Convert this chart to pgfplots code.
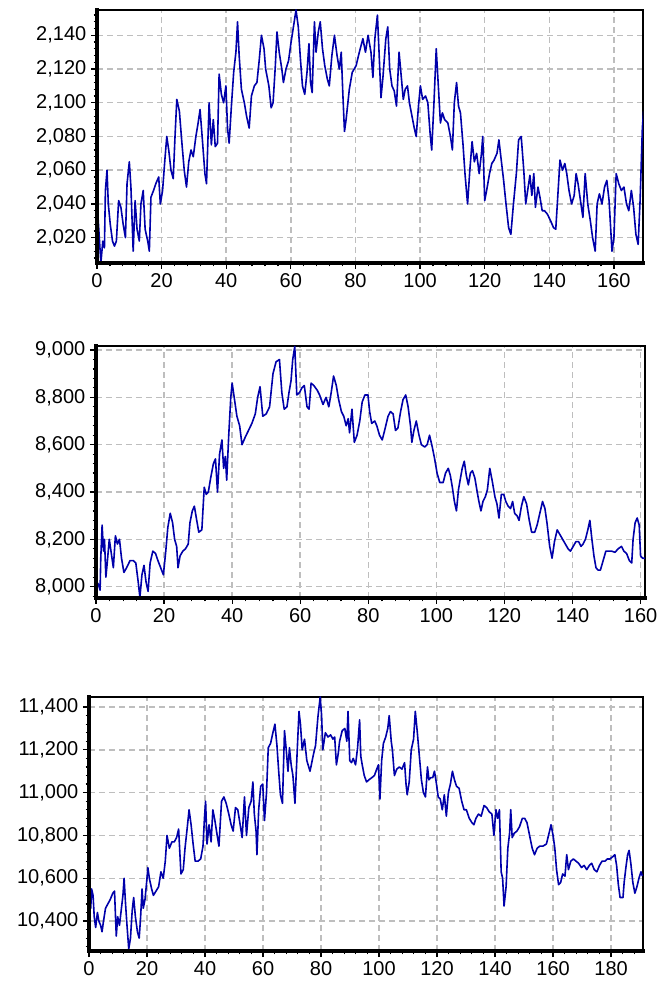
\documentclass[border=0pt]{standalone}
\usepackage{fontspec}
\setmainfont{Liberation Sans}
\usepackage{pgfplots}
\pgfplotsset{compat=1.18}

\definecolor{tracecol}{RGB}{0,0,170}
\definecolor{gridgray}{RGB}{190,190,190}

\pgfplotsset{
  panel/.style={
    scale only axis,
    anchor=south west,
    clip mode=individual,
    axis line style={black, line width=1.6pt},
    tick pos=left,
    tick align=outside,
    major tick length=4.5pt,
    minor tick length=2.5pt,
    every tick/.style={black, line width=0.9pt},
    xtick distance=20,
    minor x tick num=4,
    minor y tick num=4,
    grid=major,
    major grid style={gridgray, line width=1.1pt, dash pattern=on 4.5pt off 3pt},
    scaled y ticks=false,
    tick label style={font=\fontsize{15}{18}\selectfont},
    /pgf/number format/assume math mode=true,
    /pgf/number format/1000 sep={,},
    /pgf/number format/min exponent for 1000 sep=0,
  },
  trc/.style={tracecol, line width=1.2pt, no markers, line join=round},
}

\begin{document}
\begin{tikzpicture}
\useasboundingbox (0,0) rectangle (500.25pt,742.5pt);

% --- top panel ---
\begin{axis}[panel, at={(72.75pt,545.25pt)}, width=409.5pt, height=189.75pt,
  xmin=0, xmax=169, ymin=2005, ymax=2155, ytick distance=20]
\addplot[trc] coordinates {
(0,2042) (1.2,2005) (1.8,2018) (2.3,2014) (2.6,2048) (3.1,2060) (3.5,2040) (4.1,2028) (4.8,2018) (5.4,2015)
(6,2018) (6.7,2042) (7.4,2038) (8.1,2028) (8.8,2020) (9.3,2052) (10,2065) (10.5,2050) (11.2,2012) (11.8,2042)
(12.4,2025) (13.1,2018) (13.6,2040) (14.3,2048) (14.9,2025) (15.7,2018) (16.2,2012) (16.7,2044) (17.5,2048) (18.2,2052)
(19.1,2056) (19.6,2040) (20.3,2048) (21,2066) (21.6,2080) (22.2,2072) (22.9,2060) (23.6,2055) (24.1,2078) (24.7,2102)
(25.5,2095) (26.2,2078) (27,2060) (27.7,2050) (28.4,2065) (29.1,2072) (29.8,2068) (30.6,2080) (31.3,2088) (31.9,2096)
(32.7,2076) (33.4,2058) (33.9,2052) (34.7,2100) (35.4,2075) (36,2090) (36.6,2074) (37.3,2076) (37.8,2117) (38.5,2105)
(39.2,2100) (39.9,2110) (40.4,2085) (40.9,2076) (41.6,2098) (42.3,2118) (43,2130) (43.5,2148) (44,2128) (44.7,2108)
(45.6,2100) (46.3,2092) (47.1,2085) (47.8,2104) (48.7,2110) (49.5,2112) (50.2,2125) (50.9,2140) (51.7,2132) (52.2,2120)
(53.2,2110) (53.9,2097) (54.5,2100) (55.2,2122) (55.7,2142) (56.4,2130) (57.2,2120) (57.7,2112) (58.5,2120) (59.3,2125)
(60,2135) (60.8,2145) (61.6,2155) (62.3,2145) (63,2125) (63.6,2110) (64.3,2105) (65,2118) (65.6,2135) (66.1,2112)
(66.6,2106) (67.3,2148) (67.8,2130) (68.5,2142) (69.1,2148) (69.8,2132) (70.5,2122) (71.3,2114) (71.9,2110) (72.7,2128)
(73.5,2140) (74.3,2128) (75,2120) (75.6,2130) (76.1,2105) (76.6,2083) (77.1,2090) (78.1,2108) (79,2118) (80.2,2122)
(81.2,2130) (82.3,2138) (83.1,2130) (83.9,2140) (84.8,2130) (85.4,2115) (86,2138) (86.8,2152) (87.3,2130) (87.9,2103)
(88.5,2115) (89.4,2138) (90,2145) (90.6,2120) (91.3,2110) (92,2107) (92.7,2098) (93.5,2130) (94.2,2115) (94.8,2102)
(95.4,2108) (96.1,2110) (96.7,2100) (97.5,2092) (98.2,2085) (98.8,2080) (99.5,2098) (100.1,2110) (100.8,2102) (101.7,2104)
(102.4,2100) (103.1,2082) (103.6,2072) (104.3,2100) (105,2132) (105.5,2115) (106.3,2088) (106.9,2094) (107.6,2090) (108.6,2088)
(109.4,2080) (110,2072) (110.6,2100) (111.3,2112) (111.9,2098) (112.5,2094) (113.3,2075) (113.9,2058) (114.7,2040) (115.4,2060)
(116.1,2077) (116.8,2065) (117.5,2070) (118.3,2058) (119,2070) (119.4,2080) (120,2042) (120.6,2048) (121.5,2058) (122.2,2064)
(122.9,2066) (123.8,2070) (124.4,2078) (125,2068) (125.8,2055) (126.6,2040) (127.4,2026) (128.1,2022) (128.9,2040) (129.8,2058)
(130.5,2078) (131.3,2080) (132.1,2060) (132.7,2040) (133.3,2048) (134,2057) (134.6,2045) (135.2,2058) (135.7,2038) (136.5,2050)
(137.1,2044) (137.8,2036) (138.5,2036) (139.4,2034) (140.4,2030) (141.3,2026) (142,2025) (142.7,2047) (143.3,2066) (144.1,2060)
(144.8,2064) (145.4,2058) (146.1,2048) (146.9,2040) (147.7,2045) (148.3,2058) (148.9,2052) (149.8,2040) (150.4,2032) (151.1,2058)
(151.9,2040) (152.7,2030) (153.4,2020) (154.2,2012) (154.8,2040) (155.5,2046) (156.3,2040) (157.1,2050) (157.8,2054) (158.5,2042)
(159.4,2012) (160,2020) (160.7,2058) (161.5,2052) (162.3,2048) (163.1,2050) (163.9,2040) (164.6,2036) (165.4,2048) (166.1,2038)
(166.8,2022) (167.5,2016) (168.1,2042) (168.8,2085) (169.2,2095)
};
\draw[black, line width=2.6pt, line cap=rect] (rel axis cs:0,1) -- (rel axis cs:0,0) -- (rel axis cs:1,0);
\end{axis}

% --- middle panel ---
\begin{axis}[panel, at={(72pt,294pt)}, width=411.75pt, height=189pt,
  xmin=0, xmax=161.3, ymin=7952, ymax=9017, ytick distance=200]
\addplot[trc] coordinates {
(0.2,8020) (0.7,8010) (1.2,7985) (1.4,8120) (1.8,8260) (2.2,8150) (2.5,8200) (2.9,8040) (3.3,8100) (3.9,8200)
(4.5,8140) (5.1,8080) (5.7,8215) (6.3,8180) (6.9,8200) (7.5,8120) (8.2,8060) (9,8080) (10,8110) (11,8110)
(11.7,8100) (12.4,8020) (12.9,7955) (13.5,8050) (14.1,8090) (14.7,8020) (15.3,7980) (15.9,8100) (16.7,8150) (17.5,8140)
(18.2,8110) (19,8080) (19.8,8050) (20.5,8150) (21.1,8250) (21.8,8310) (22.5,8270) (23.1,8200) (23.7,8170) (24.1,8080)
(24.7,8130) (25.5,8150) (26.3,8160) (27.1,8180) (27.6,8270) (28.3,8320) (28.9,8340) (29.6,8280) (30.2,8230) (31.1,8240)
(31.8,8420) (32.4,8390) (33,8400) (33.7,8460) (34.5,8520) (35.1,8540) (35.7,8400) (36.3,8560) (37,8620) (37.5,8500)
(38,8550) (38.4,8450) (39,8640) (39.6,8800) (40,8860) (40.6,8800) (41.4,8720) (42.2,8680) (42.9,8600) (43.8,8630)
(44.8,8660) (45.8,8690) (46.8,8730) (47.5,8800) (48.2,8845) (49,8720) (50,8730) (51,8760) (52,8900) (52.9,8950)
(53.9,8960) (54.6,8820) (55.3,8750) (56.1,8760) (56.7,8820) (57.3,8870) (57.8,8960) (58.4,9015) (59,8810) (59.8,8820)
(60.5,8840) (61.2,8850) (62,8760) (62.6,8750) (63.2,8860) (64,8850) (65,8830) (65.7,8810) (66.7,8770) (67.6,8800)
(68.4,8760) (69.1,8820) (69.8,8890) (70.6,8850) (71.3,8790) (72.1,8740) (72.8,8720) (73.5,8680) (74.1,8710) (74.5,8650)
(75.2,8750) (75.9,8610) (76.7,8640) (77.5,8700) (78.2,8780) (79,8810) (79.9,8810) (80.4,8740) (81,8690) (81.9,8700)
(82.5,8680) (83.3,8640) (84.1,8620) (84.8,8660) (85.8,8720) (86.5,8740) (87.3,8730) (88,8660) (88.7,8670) (89.5,8740)
(90.2,8790) (91,8810) (91.7,8760) (92.4,8680) (92.8,8610) (93.4,8660) (94.1,8700) (94.9,8640) (95.6,8600) (96.6,8590)
(97.3,8600) (98,8640) (98.8,8590) (99.5,8540) (100.2,8480) (101,8440) (102,8440) (102.7,8480) (103.5,8500) (104.1,8470)
(104.7,8420) (105.3,8360) (105.9,8320) (106.5,8410) (107.1,8460) (107.6,8500) (108.2,8530) (108.8,8470) (109.4,8430) (110,8480)
(110.6,8490) (111.3,8460) (112,8400) (112.5,8360) (113.1,8320) (113.7,8360) (114.4,8380) (115,8410) (115.7,8500) (116.5,8440)
(117.2,8380) (117.8,8350) (118.4,8290) (119.1,8390) (119.8,8390) (120.4,8360) (121.1,8340) (121.8,8330) (122.4,8360) (123,8310)
(123.7,8300) (124.3,8280) (125,8340) (125.7,8380) (126.5,8350) (127.3,8280) (128,8230) (128.9,8230) (129.6,8260) (130.4,8310)
(131.2,8360) (131.9,8330) (132.5,8270) (133.3,8170) (134,8120) (134.7,8190) (135.5,8240) (136.3,8220) (137.1,8200) (137.9,8180)
(138.7,8160) (139.4,8150) (140.2,8170) (141,8190) (141.8,8190) (142.5,8170) (143.1,8180) (143.8,8200) (144.5,8240) (145.1,8280)
(145.7,8200) (146.3,8130) (146.9,8080) (147.5,8070) (148.2,8070) (149,8110) (149.8,8150) (150.6,8150) (151.5,8150) (152.5,8145)
(153.4,8160) (154.4,8170) (155.1,8150) (155.9,8140) (156.7,8110) (157.4,8100) (157.8,8200) (158.4,8270) (159,8290) (159.6,8260)
(160,8130) (160.6,8120) (161.3,8120)
};
\draw[black, line width=2.6pt, line cap=rect] (rel axis cs:0,1) -- (rel axis cs:0,0) -- (rel axis cs:1,0);
\end{axis}

% --- bottom panel ---
\begin{axis}[panel, at={(66.75pt,29.25pt)}, width=415.5pt, height=190.5pt,
  xmin=0, xmax=191, ymin=10260, ymax=11447, ytick distance=200]
\addplot[trc] coordinates {
(0.2,10600) (0.6,10460) (0.9,10550) (1.4,10520) (1.8,10420) (2.3,10370) (2.9,10440) (3.4,10400) (4,10380) (4.5,10350)
(5,10400) (5.7,10460) (6.5,10480) (7.3,10500) (8.2,10530) (8.8,10540) (9.4,10330) (9.9,10420) (10.5,10380) (11.1,10450)
(11.7,10520) (12.1,10600) (12.6,10480) (13.1,10380) (13.7,10270) (14.3,10320) (14.9,10450) (15.4,10510) (16,10420) (16.7,10350)
(17.3,10320) (17.8,10420) (18.3,10550) (18.7,10460) (19.3,10500) (20,10600) (20.3,10650) (20.8,10600) (21.6,10550) (22.2,10520)
(23.1,10540) (24,10560) (24.8,10630) (25.6,10600) (26.3,10680) (26.9,10800) (27.7,10740) (28.6,10770) (29.4,10770) (30.2,10790)
(30.9,10830) (31.7,10620) (32.5,10640) (33.1,10740) (33.9,10840) (34.5,10920) (35.2,10850) (35.9,10760) (36.6,10680) (37.6,10680)
(38.5,10690) (39.3,10750) (39.8,10880) (40.2,10960) (40.7,10760) (41.4,10850) (42.1,10770) (42.7,10920) (43.4,10870) (44.2,10800)
(44.8,10750) (45.7,10960) (46.5,10980) (47.3,10950) (48.2,10900) (49,10850) (49.7,10820) (50.5,10930) (51.3,10920) (52,10860)
(52.8,10790) (53.6,10980) (54.3,10800) (55.1,10930) (55.9,10960) (56.5,11050) (57,10900) (57.6,10820) (57.9,10710) (58.5,10920)
(59.2,11030) (59.9,11040) (60.5,10870) (61.2,11000) (61.8,11210) (62.6,11230) (63.4,11280) (64.1,11320) (64.8,11220) (65.4,11100)
(66,10990) (66.7,10950) (67.4,11290) (68,11200) (68.6,11100) (69.1,11210) (69.7,11130) (70.3,11080) (71,10950) (71.8,11200)
(72.4,11380) (72.9,11320) (73.5,11200) (74.3,11250) (75.1,11150) (76.2,11100) (77.4,11180) (78.1,11220) (78.9,11350) (79.7,11447)
(80.2,11360) (80.6,11200) (81.5,11280) (82.4,11260) (83.3,11270) (84.1,11250) (84.7,11260) (85.3,11130) (85.9,11180) (86.4,11240)
(87.3,11290) (88.2,11300) (88.9,11240) (89.3,11380) (89.9,11150) (90.5,11140) (91.1,11160) (91.9,11130) (92.6,11210) (93.3,11340)
(93.7,11170) (94.2,11130) (94.9,11080) (95.7,11050) (96.5,11060) (97.5,11070) (98.4,11080) (99.2,11110) (99.8,11130) (100.3,10970)
(100.9,11150) (101.5,11230) (102.3,11260) (103,11300) (103.5,11360) (104.2,11240) (104.6,11200) (105.3,11080) (106.1,11110) (107,11120)
(107.9,11110) (108.8,11140) (109.3,11040) (109.7,10990) (110.4,11050) (111.1,11200) (111.9,11250) (112.5,11380) (113.2,11280) (113.9,11170)
(114.6,11060) (115.3,11000) (116,10980) (116.7,11120) (117.2,11060) (117.8,11070) (118.5,11070) (119.1,11100) (119.7,11050) (120.4,10980)
(121.1,10970) (121.8,10920) (122.5,10990) (123.2,10890) (123.9,11000) (124.6,11040) (125.3,11100) (126,11060) (126.7,11030) (127.6,11020)
(128.5,10960) (129.3,10920) (130.1,10920) (131.1,10880) (132,10860) (132.7,10850) (133.4,10880) (134.3,10900) (135.2,10890) (136.2,10940)
(137.1,10930) (138,10910) (138.9,10900) (139.6,10800) (140.3,10920) (140.9,10880) (141.5,10920) (142.1,10630) (142.6,10600) (143.1,10470)
(143.8,10560) (144.4,10740) (145,10810) (145.4,10920) (145.9,10790) (146.6,10810) (147.5,10820) (148.4,10840) (149.4,10880) (150.2,10880)
(151,10860) (151.9,10800) (152.8,10740) (153.6,10710) (154.5,10740) (155.4,10750) (156.5,10750) (157.7,10760) (158.6,10810) (159.3,10850)
(160,10800) (160.6,10740) (161.2,10640) (161.9,10570) (162.6,10580) (163.3,10620) (164.1,10610) (164.7,10710) (165.3,10640) (166.1,10680)
(167,10690) (167.9,10680) (168.8,10670) (169.8,10650) (170.7,10660) (171.6,10640) (172.5,10660) (173.3,10670) (174.2,10640) (175.1,10630)
(176,10660) (176.9,10680) (177.9,10680) (178.7,10690) (179.6,10690) (180.5,10700) (181.3,10710) (181.9,10660) (182.5,10570) (183.1,10510)
(184.1,10510) (184.5,10580) (185.1,10650) (185.7,10710) (186.2,10730) (186.8,10670) (187.5,10580) (188.2,10530) (188.9,10560) (189.6,10600)
(190.3,10630) (190.8,10610)
};
\draw[black, line width=2.6pt, line cap=rect] (rel axis cs:0,1) -- (rel axis cs:0,0) -- (rel axis cs:1,0);
\end{axis}
\end{tikzpicture}
\end{document}
